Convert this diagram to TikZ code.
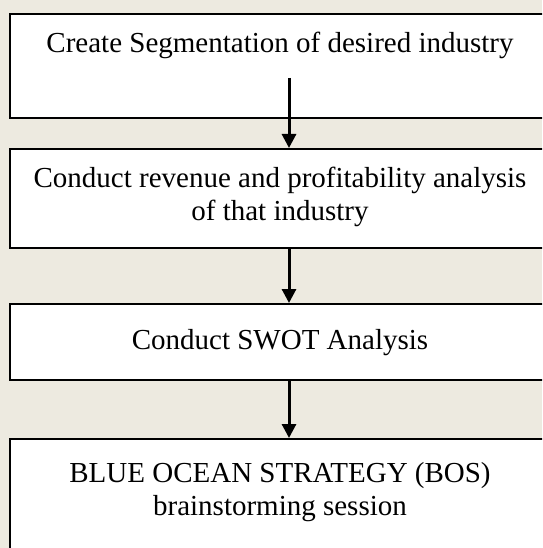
\documentclass[tikz,border=0pt]{standalone}
\usepackage{fontspec}
\setmainfont{Liberation Serif}
\usetikzlibrary{positioning,arrows.meta}
\definecolor{paper}{HTML}{EDEAE0}

\begin{document}
\begin{tikzpicture}[x=1pt, y=1pt,
    stepbox/.style={draw=black, line width=2.2pt, fill=white, rectangle, minimum width=542pt, anchor=north west, inner sep=0pt},
    steptext/.style={font=\fontsize{29}{33}\selectfont, align=center, anchor=base, inner sep=0pt},
    flow/.style={line width=3pt, -{Triangle[length=14pt, width=14pt]}}]
    % Page background
    \useasboundingbox (0,0) rectangle (542,-548);
    \clip (0,0) rectangle (542,-548);
    \fill[paper] (0,0) rectangle (542,-548);

    % Step boxes (right side runs off the page)
    \node[stepbox, minimum height=104pt] (seg) at (9,-13) {};
    \node[stepbox, minimum height=99pt] (rev) at (9,-148) {};
    \node[stepbox, minimum height=76pt] (swot) at (9,-303) {};
    \node[stepbox, minimum height=140pt] (bos) at (9,-438) {};

    % Step texts (base = last line)
    \node[steptext] (segtxt) at (280,-53) {Create Segmentation of desired industry};
    \node[steptext] (revtxt) at (280,-220) {Conduct revenue and profitability analysis\\of that industry};
    \node[steptext] (swottxt) at (280,-349) {Conduct SWOT Analysis};
    \node[steptext] (bostxt) at (280,-515) {BLUE OCEAN STRATEGY (BOS)\\brainstorming session};

    % Arrows
    \coordinate (tap) at (289,-78);
    \draw[flow] (tap) -- (tap |- rev.north);
    \draw[flow] (tap |- rev.south) -- (tap |- swot.north);
    \draw[flow] (tap |- swot.south) -- (tap |- bos.north);
\end{tikzpicture}
\end{document}
